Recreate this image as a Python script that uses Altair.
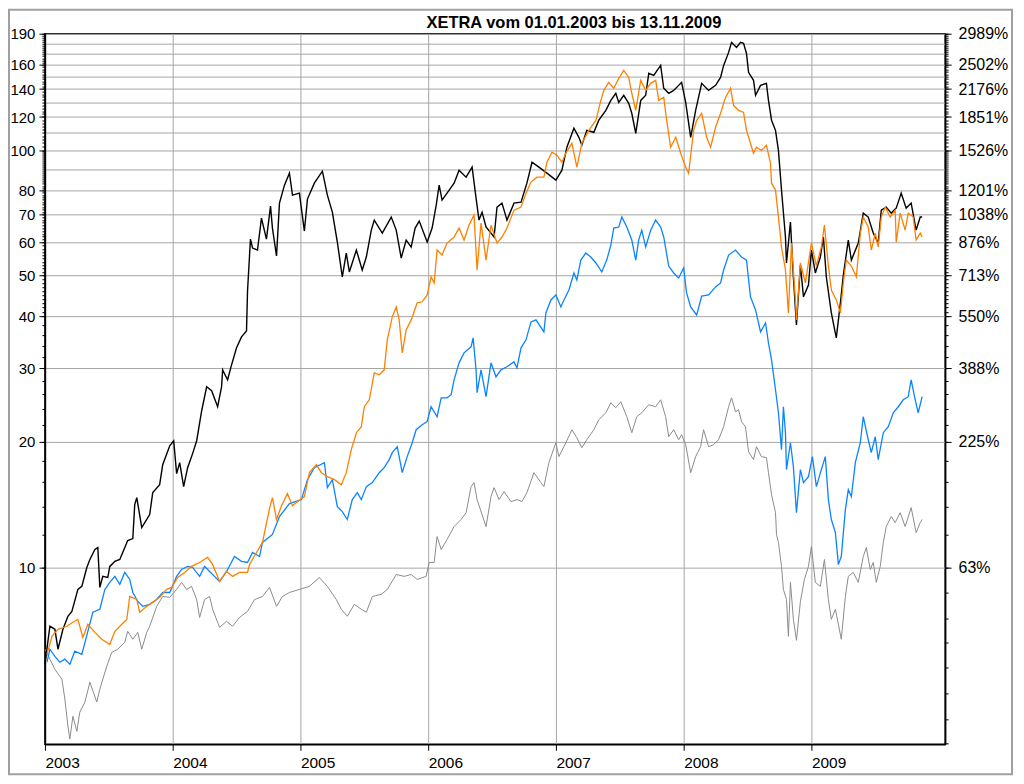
import altair as alt
import pandas as pd

FONT = "Liberation Sans, Arial, Helvetica, sans-serif"
TITLE = "XETRA vom 01.01.2003 bis 13.11.2009"

# (decimal year, price)
black = [
    (2003.000, 5.86), (2003.039, 7.23), (2003.078, 7.11), (2003.102, 6.37), (2003.141, 7.11),
    (2003.180, 7.64), (2003.211, 7.85), (2003.258, 8.86), (2003.289, 9.01), (2003.328, 10.0),
    (2003.352, 10.45), (2003.391, 11.04), (2003.414, 11.16), (2003.430, 8.96), (2003.453, 9.52),
    (2003.492, 9.46), (2003.508, 10.06), (2003.547, 10.34), (2003.586, 10.45), (2003.609, 10.86),
    (2003.648, 11.6), (2003.688, 11.73), (2003.703, 14.14), (2003.719, 14.7), (2003.758, 12.46),
    (2003.797, 13.03), (2003.820, 13.39), (2003.844, 15.11), (2003.898, 15.79), (2003.922, 17.63),
    (2003.977, 19.57), (2004.008, 20.12), (2004.031, 16.78), (2004.055, 17.83), (2004.086, 15.62),
    (2004.117, 17.34), (2004.156, 18.74), (2004.188, 20.12), (2004.227, 23.74), (2004.266, 27.1),
    (2004.305, 26.51), (2004.352, 24.27), (2004.383, 27.1), (2004.391, 29.75), (2004.430, 28.16),
    (2004.461, 30.58), (2004.500, 33.59), (2004.539, 35.68), (2004.578, 36.88), (2004.586, 45.97),
    (2004.609, 61.19), (2004.625, 58.25), (2004.664, 57.61), (2004.695, 68.71), (2004.734, 61.19),
    (2004.766, 73.41), (2004.781, 65.03), (2004.813, 55.74), (2004.836, 74.63), (2004.875, 82.4),
    (2004.914, 88.03), (2004.938, 77.99), (2004.992, 78.85), (2005.031, 63.97), (2005.055, 76.3),
    (2005.109, 83.32), (2005.172, 89.0), (2005.211, 78.0), (2005.250, 71.0), (2005.289, 60.2),
    (2005.328, 49.65), (2005.359, 56.66), (2005.383, 51.05), (2005.438, 57.61), (2005.484, 51.6),
    (2005.516, 55.43), (2005.555, 64.3), (2005.578, 67.96), (2005.641, 63.26), (2005.711, 69.1),
    (2005.750, 64.3), (2005.789, 55.13), (2005.828, 60.87), (2005.867, 58.57), (2005.898, 65.03),
    (2005.930, 67.58), (2005.992, 60.2), (2006.031, 65.03), (2006.063, 73.8), (2006.086, 82.4),
    (2006.109, 75.9), (2006.148, 78.85), (2006.203, 83.32), (2006.242, 89.5), (2006.297, 86.1),
    (2006.344, 91.0), (2006.375, 76.71), (2006.398, 67.96), (2006.422, 71.0), (2006.453, 65.4),
    (2006.516, 61.9), (2006.539, 73.0), (2006.578, 74.63), (2006.617, 67.96), (2006.672, 74.63),
    (2006.727, 75.0), (2006.773, 83.32), (2006.813, 93.5), (2006.867, 91.0), (2006.930, 88.03),
    (2007.000, 84.7), (2007.047, 89.5), (2007.086, 101.6), (2007.141, 112.8), (2007.180, 107.3),
    (2007.203, 102.7), (2007.242, 111.5), (2007.297, 110.3), (2007.336, 117.9), (2007.391, 124.5),
    (2007.430, 131.5), (2007.469, 136.8), (2007.492, 130.1), (2007.531, 135.3), (2007.570, 129.4),
    (2007.594, 122.5), (2007.625, 109.7), (2007.664, 131.5), (2007.703, 135.3), (2007.727, 152.7),
    (2007.766, 151.0), (2007.820, 159.5), (2007.844, 140.6), (2007.883, 136.8), (2007.922, 139.0),
    (2007.984, 145.3), (2008.016, 130.1), (2008.055, 107.3), (2008.094, 124.5), (2008.141, 144.5),
    (2008.195, 139.0), (2008.250, 142.9), (2008.289, 149.3), (2008.313, 159.5), (2008.352, 171.4),
    (2008.375, 181.1), (2008.414, 176.2), (2008.445, 181.1), (2008.469, 180.1), (2008.492, 170.4),
    (2008.508, 153.5), (2008.547, 146.9), (2008.563, 135.3), (2008.602, 142.9), (2008.648, 144.5),
    (2008.664, 131.6), (2008.688, 117.9), (2008.719, 111.5), (2008.742, 99.8), (2008.766, 80.2),
    (2008.797, 61.9), (2008.805, 53.63), (2008.836, 67.2), (2008.859, 49.65), (2008.883, 38.1),
    (2008.914, 53.0), (2008.938, 44.5), (2008.977, 47.5), (2009.000, 57.61), (2009.031, 50.76),
    (2009.070, 55.43), (2009.094, 61.9), (2009.117, 49.65), (2009.156, 40.72), (2009.195, 35.49),
    (2009.227, 43.03), (2009.250, 50.2), (2009.289, 60.87), (2009.313, 54.5), (2009.367, 59.87),
    (2009.406, 70.63), (2009.445, 69.1), (2009.484, 63.26), (2009.523, 59.87), (2009.547, 71.8),
    (2009.586, 73.0), (2009.625, 70.63), (2009.664, 72.6), (2009.703, 78.85), (2009.742, 72.6),
    (2009.781, 74.63), (2009.820, 64.3), (2009.852, 69.1), (2009.867, 69.1),
]

orange = [
    (2003.016, 6.19), (2003.055, 6.84), (2003.102, 7.11), (2003.172, 7.23), (2003.219, 7.39),
    (2003.258, 7.51), (2003.297, 6.8), (2003.336, 7.31), (2003.391, 6.99), (2003.445, 6.73),
    (2003.508, 6.54), (2003.547, 7.03), (2003.602, 7.31), (2003.641, 7.51), (2003.664, 8.52),
    (2003.719, 8.38), (2003.742, 7.81), (2003.797, 8.07), (2003.844, 8.25), (2003.898, 8.48),
    (2003.953, 8.86), (2003.992, 8.96), (2004.039, 9.46), (2004.094, 9.73), (2004.148, 10.06),
    (2004.211, 10.28), (2004.273, 10.57), (2004.313, 10.17), (2004.367, 9.26), (2004.422, 9.78),
    (2004.469, 9.52), (2004.523, 9.73), (2004.586, 9.73), (2004.602, 10.17), (2004.656, 10.86),
    (2004.703, 11.48), (2004.758, 13.83), (2004.781, 14.7), (2004.813, 13.03), (2004.852, 14.06),
    (2004.898, 15.03), (2004.938, 14.06), (2004.977, 14.38), (2005.031, 14.78), (2005.070, 16.87),
    (2005.125, 17.63), (2005.164, 16.87), (2005.211, 16.5), (2005.266, 16.23), (2005.320, 15.79),
    (2005.359, 16.87), (2005.398, 19.15), (2005.438, 21.03), (2005.477, 21.74), (2005.500, 24.27),
    (2005.539, 25.22), (2005.578, 29.27), (2005.617, 28.95), (2005.656, 29.75), (2005.680, 35.1),
    (2005.719, 39.84), (2005.750, 42.1), (2005.773, 39.19), (2005.797, 32.67), (2005.828, 37.07),
    (2005.867, 39.19), (2005.914, 43.03), (2005.953, 43.3), (2005.992, 44.96), (2006.023, 49.65),
    (2006.047, 48.04), (2006.070, 57.61), (2006.109, 56.04), (2006.148, 59.87), (2006.203, 61.9),
    (2006.242, 65.03), (2006.281, 60.87), (2006.320, 66.1), (2006.359, 69.9), (2006.383, 51.6),
    (2006.414, 66.84), (2006.453, 54.5), (2006.492, 66.1), (2006.539, 59.87), (2006.578, 61.9),
    (2006.617, 65.03), (2006.672, 71.8), (2006.727, 73.0), (2006.766, 78.85), (2006.805, 83.8),
    (2006.852, 86.1), (2006.906, 86.1), (2006.930, 93.5), (2006.969, 98.8), (2007.008, 97.2),
    (2007.047, 93.5), (2007.078, 98.3), (2007.125, 103.8), (2007.164, 91.0), (2007.203, 103.8),
    (2007.258, 111.5), (2007.313, 117.9), (2007.352, 131.5), (2007.375, 139.0), (2007.414, 145.3),
    (2007.453, 140.6), (2007.492, 148.5), (2007.531, 155.2), (2007.570, 149.3), (2007.594, 136.8),
    (2007.625, 124.5), (2007.664, 146.9), (2007.703, 139.0), (2007.742, 144.5), (2007.781, 146.9),
    (2007.805, 131.5), (2007.844, 133.7), (2007.867, 117.9), (2007.898, 101.6), (2007.938, 107.3),
    (2007.977, 98.3), (2008.016, 91.0), (2008.039, 88.03), (2008.078, 111.5), (2008.102, 117.9),
    (2008.141, 122.5), (2008.180, 107.3), (2008.211, 101.6), (2008.250, 113.4), (2008.289, 122.5),
    (2008.328, 133.7), (2008.367, 140.6), (2008.391, 128.0), (2008.430, 124.5), (2008.469, 123.1),
    (2008.492, 111.5), (2008.523, 103.8), (2008.547, 98.3), (2008.570, 101.6), (2008.609, 99.8),
    (2008.648, 102.7), (2008.680, 93.0), (2008.688, 83.3), (2008.719, 80.2), (2008.742, 69.1),
    (2008.766, 58.57), (2008.797, 51.6), (2008.820, 40.72), (2008.844, 59.87), (2008.875, 43.75),
    (2008.883, 39.19), (2008.914, 53.63), (2008.953, 48.04), (2009.000, 59.87), (2009.039, 52.75),
    (2009.078, 58.57), (2009.102, 66.1), (2009.133, 52.75), (2009.156, 46.2), (2009.195, 43.75),
    (2009.227, 40.72), (2009.250, 48.04), (2009.273, 54.5), (2009.313, 52.75), (2009.352, 49.65),
    (2009.383, 63.26), (2009.406, 69.1), (2009.445, 65.4), (2009.469, 57.61), (2009.500, 63.26),
    (2009.523, 58.57), (2009.547, 69.1), (2009.578, 73.0), (2009.617, 69.1), (2009.656, 71.8),
    (2009.664, 60.2), (2009.695, 70.63), (2009.734, 64.3), (2009.758, 70.63), (2009.797, 69.1),
    (2009.820, 60.87), (2009.852, 63.26), (2009.867, 61.9),
]

blue = [
    (2003.016, 5.93), (2003.039, 6.37), (2003.078, 6.12), (2003.117, 5.93), (2003.156, 6.03),
    (2003.195, 5.86), (2003.234, 6.3), (2003.289, 6.19), (2003.336, 7.03), (2003.375, 7.81),
    (2003.430, 7.94), (2003.469, 8.86), (2003.508, 9.21), (2003.547, 9.52), (2003.586, 9.11),
    (2003.625, 9.73), (2003.664, 9.36), (2003.688, 8.71), (2003.727, 8.29), (2003.766, 8.07),
    (2003.820, 8.16), (2003.875, 8.38), (2003.922, 8.71), (2003.977, 8.71), (2004.031, 9.52),
    (2004.070, 9.89), (2004.117, 10.06), (2004.156, 10.0), (2004.211, 9.52), (2004.250, 10.06),
    (2004.289, 9.78), (2004.328, 9.52), (2004.367, 9.26), (2004.422, 9.78), (2004.484, 10.62),
    (2004.539, 10.34), (2004.586, 10.28), (2004.625, 10.86), (2004.680, 10.62), (2004.703, 11.48),
    (2004.781, 12.0), (2004.836, 13.24), (2004.914, 14.22), (2005.008, 14.54), (2005.055, 16.23),
    (2005.109, 17.34), (2005.188, 17.83), (2005.211, 15.53), (2005.250, 16.23), (2005.289, 13.99),
    (2005.328, 13.61), (2005.367, 13.03), (2005.406, 14.54), (2005.445, 15.11), (2005.477, 14.54),
    (2005.516, 15.62), (2005.563, 15.97), (2005.617, 16.87), (2005.656, 17.34), (2005.695, 18.13),
    (2005.719, 18.84), (2005.758, 19.47), (2005.797, 16.87), (2005.836, 18.43), (2005.875, 19.9),
    (2005.906, 21.38), (2005.953, 21.98), (2005.992, 22.35), (2006.023, 24.27), (2006.070, 22.97),
    (2006.102, 25.5), (2006.148, 25.5), (2006.180, 25.93), (2006.203, 28.16), (2006.242, 30.92),
    (2006.281, 32.67), (2006.336, 33.78), (2006.352, 35.49), (2006.375, 29.75), (2006.383, 26.22),
    (2006.414, 29.75), (2006.453, 25.65), (2006.492, 30.92), (2006.531, 28.63), (2006.570, 29.75),
    (2006.617, 30.25), (2006.672, 31.09), (2006.695, 30.08), (2006.727, 33.59), (2006.766, 35.1),
    (2006.805, 38.75), (2006.844, 39.19), (2006.906, 36.68), (2006.922, 40.72), (2006.961, 43.75),
    (2007.000, 44.96), (2007.039, 42.1), (2007.063, 43.75), (2007.102, 46.2), (2007.141, 50.76),
    (2007.164, 48.8), (2007.195, 54.5), (2007.234, 56.66), (2007.273, 55.43), (2007.313, 53.63),
    (2007.359, 51.05), (2007.398, 54.5), (2007.430, 59.2), (2007.453, 65.03), (2007.492, 65.4),
    (2007.516, 69.1), (2007.555, 65.4), (2007.594, 60.87), (2007.625, 54.5), (2007.648, 60.87),
    (2007.672, 64.3), (2007.703, 58.57), (2007.742, 64.3), (2007.781, 67.96), (2007.820, 65.4),
    (2007.844, 61.9), (2007.883, 52.75), (2007.922, 50.76), (2007.961, 49.38), (2008.000, 52.17),
    (2008.023, 45.46), (2008.055, 42.1), (2008.102, 40.27), (2008.141, 44.7), (2008.195, 44.96),
    (2008.250, 47.0), (2008.289, 48.04), (2008.313, 51.6), (2008.352, 56.04), (2008.406, 57.61),
    (2008.453, 55.43), (2008.492, 54.5), (2008.523, 44.5), (2008.563, 41.4), (2008.602, 36.68),
    (2008.641, 38.54), (2008.664, 34.52), (2008.688, 31.44), (2008.719, 26.66), (2008.742, 23.48),
    (2008.766, 19.15), (2008.781, 24.27), (2008.797, 21.03), (2008.805, 17.16), (2008.836, 19.9),
    (2008.859, 17.44), (2008.883, 13.53), (2008.914, 17.16), (2008.938, 15.97), (2008.977, 16.5),
    (2009.008, 18.43), (2009.039, 15.62), (2009.078, 17.16), (2009.109, 18.43), (2009.133, 14.54),
    (2009.156, 13.03), (2009.188, 12.12), (2009.211, 10.17), (2009.234, 10.62), (2009.266, 13.76),
    (2009.289, 15.36), (2009.313, 14.78), (2009.344, 17.83), (2009.383, 19.9), (2009.406, 22.97),
    (2009.445, 20.23), (2009.469, 18.84), (2009.500, 20.57), (2009.523, 18.13), (2009.563, 21.03),
    (2009.602, 21.74), (2009.641, 23.48), (2009.680, 24.27), (2009.719, 25.22), (2009.758, 25.65),
    (2009.781, 28.16), (2009.813, 25.22), (2009.836, 23.48), (2009.867, 25.65),
]

gray = [
    (2003.000, 6.37), (2003.039, 6.03), (2003.078, 5.7), (2003.133, 5.4), (2003.156, 4.84),
    (2003.180, 4.17), (2003.195, 3.88), (2003.219, 4.4), (2003.250, 4.05), (2003.273, 4.5),
    (2003.313, 4.76), (2003.352, 5.31), (2003.406, 4.76), (2003.430, 5.11), (2003.484, 5.8),
    (2003.523, 6.26), (2003.570, 6.37), (2003.625, 6.62), (2003.648, 7.03), (2003.688, 6.73),
    (2003.727, 6.99), (2003.758, 6.37), (2003.797, 6.99), (2003.820, 7.23), (2003.875, 8.07),
    (2003.922, 8.52), (2003.977, 8.48), (2004.031, 8.86), (2004.070, 9.21), (2004.109, 8.86),
    (2004.148, 9.01), (2004.188, 8.38), (2004.211, 7.59), (2004.250, 8.38), (2004.289, 8.52),
    (2004.313, 7.94), (2004.367, 7.19), (2004.422, 7.43), (2004.469, 7.23), (2004.523, 7.59),
    (2004.586, 7.85), (2004.641, 8.38), (2004.703, 8.52), (2004.758, 8.96), (2004.813, 8.07),
    (2004.859, 8.52), (2004.914, 8.71), (2004.992, 8.86), (2005.070, 9.01), (2005.148, 9.46),
    (2005.211, 9.01), (2005.281, 8.38), (2005.320, 7.94), (2005.367, 7.64), (2005.422, 8.16),
    (2005.477, 7.94), (2005.516, 7.81), (2005.563, 8.52), (2005.633, 8.62), (2005.680, 8.86),
    (2005.750, 9.62), (2005.813, 9.52), (2005.867, 9.62), (2005.914, 9.36), (2005.984, 9.52),
    (2006.008, 10.28), (2006.047, 10.28), (2006.070, 11.86), (2006.102, 11.04), (2006.148, 11.67),
    (2006.203, 12.53), (2006.258, 13.03), (2006.297, 13.53), (2006.336, 15.62), (2006.359, 15.97),
    (2006.383, 14.54), (2006.453, 12.53), (2006.492, 14.78), (2006.516, 15.53), (2006.555, 14.54),
    (2006.594, 15.2), (2006.648, 14.38), (2006.695, 14.54), (2006.734, 14.38), (2006.773, 15.11),
    (2006.828, 16.87), (2006.883, 15.97), (2006.906, 15.62), (2006.945, 17.83), (2007.000, 19.9),
    (2007.023, 18.43), (2007.078, 19.9), (2007.125, 21.38), (2007.164, 20.46), (2007.203, 19.36),
    (2007.242, 20.23), (2007.297, 21.38), (2007.336, 22.59), (2007.391, 23.48), (2007.430, 24.81),
    (2007.469, 24.14), (2007.508, 24.95), (2007.555, 22.97), (2007.594, 21.03), (2007.633, 22.97),
    (2007.672, 23.48), (2007.727, 24.54), (2007.781, 24.27), (2007.820, 25.22), (2007.859, 22.97),
    (2007.883, 20.57), (2007.922, 21.38), (2007.961, 20.23), (2007.984, 20.8), (2008.016, 19.68),
    (2008.055, 16.87), (2008.094, 18.43), (2008.133, 19.47), (2008.156, 21.38), (2008.195, 19.47),
    (2008.234, 19.68), (2008.273, 20.23), (2008.313, 21.74), (2008.352, 24.27), (2008.375, 25.5),
    (2008.406, 23.6), (2008.430, 23.87), (2008.453, 22.35), (2008.484, 21.74), (2008.508, 18.94),
    (2008.547, 18.13), (2008.570, 19.47), (2008.609, 18.43), (2008.648, 18.33), (2008.664, 16.87),
    (2008.688, 14.94), (2008.719, 13.53), (2008.727, 11.99), (2008.742, 11.48), (2008.766, 10.06),
    (2008.781, 8.86), (2008.805, 8.38), (2008.820, 6.84), (2008.836, 9.21), (2008.859, 7.51),
    (2008.883, 6.69), (2008.914, 8.29), (2008.945, 9.36), (2008.977, 10.06), (2009.000, 11.22),
    (2009.031, 9.21), (2009.070, 9.01), (2009.102, 10.45), (2009.133, 8.38), (2009.156, 7.51),
    (2009.188, 7.94), (2009.234, 6.73), (2009.266, 8.52), (2009.289, 9.52), (2009.328, 9.73),
    (2009.367, 9.21), (2009.406, 10.62), (2009.430, 11.16), (2009.461, 9.89), (2009.484, 10.28),
    (2009.508, 9.21), (2009.539, 10.06), (2009.563, 11.48), (2009.586, 12.53), (2009.625, 13.24),
    (2009.656, 12.81), (2009.695, 13.53), (2009.734, 12.53), (2009.781, 13.91), (2009.820, 12.12),
    (2009.852, 12.81), (2009.867, 13.03),
]

year_ticks = [2003, 2004, 2005, 2006, 2007, 2008, 2009]
left_labels = [10, 20, 30, 40, 50, 60, 70, 80, 100, 120, 140, 160, 190]
right_labels = ["63%", "225%", "388%", "550%", "713%", "876%", "1038%",
                "1201%", "1526%", "1851%", "2176%", "2502%", "2989%"]
minor_ticks = list(range(10, 40, 2)) + list(range(40, 100)) + list(range(100, 191, 2))
low_ticks = [3.79, 4.33, 5.0, 5.77, 6.62, 7.55, 8.71]


def frame(pairs, name):
    return pd.DataFrame(pairs, columns=["year", "value"]).assign(series=name)


x_scale = alt.Scale(domain=[2003, 2010.047], nice=False, zero=False)
y_scale = alt.Scale(type="log", domain=[3.77, 190], nice=False)

x_axis = alt.Axis(values=year_ticks, format="d", title=None, grid=True, tickSize=6,
                  labelAlign="left", labelBaseline="top", labelPadding=5, labelFontSize=15.5,
                  labelFlush=False, labelOverlap=False)
left_major = alt.Axis(orient="left", values=left_labels, title=None, grid=False,
                      tickSize=6, labelPadding=4, labelFontSize=15)
left_minor = alt.Axis(orient="left", values=minor_ticks, title=None, labels=False,
                      tickSize=3, domain=False, grid=True,
                      gridOpacity={"condition": {"test": "datum.value % 10 == 0", "value": 1},
                                   "value": 0})
right_major = alt.Axis(orient="right", values=left_labels, title=None, grid=False,
                       tickSize=6, labelPadding=7, labelAlign="left", labelFontSize=16,
                       labelExpr=f"{right_labels}[indexof({left_labels}, datum.value)]")
right_minor = alt.Axis(orient="right", values=low_ticks + minor_ticks, title=None,
                       labels=False, tickSize=3, domain=False, grid=False)

gray_df = frame(gray, "gray")


def line(df, color, width, y_axis=None, opacity=1):
    return alt.Chart(df).mark_line(color=color, strokeWidth=width, strokeOpacity=opacity).encode(
        x=alt.X("year:Q", scale=x_scale, axis=x_axis),
        y=alt.Y("value:Q", scale=y_scale, axis=y_axis),
    )


base = line(gray_df, "#8c8c8c", 1, y_axis=left_major)
minor_l = line(gray_df, "#8c8c8c", 1, y_axis=left_minor, opacity=0)
major_r = line(gray_df, "#8c8c8c", 1, y_axis=right_major, opacity=0)
minor_r = line(gray_df, "#8c8c8c", 1, y_axis=right_minor, opacity=0)
blue_l = line(frame(blue, "blue"), "#0a84ff", 1.3)
black_l = line(frame(black, "black"), "#000000", 1.4)
orange_l = line(frame(orange, "orange"), "#ff8000", 1.3)

border = alt.Chart(pd.DataFrame({"a": [0]})).mark_rect(
    filled=False, stroke="#a0a0a0", strokeWidth=2
).encode(x=alt.value(-36), x2=alt.value(969), y=alt.value(-24), y2=alt.value(742))

chart = alt.layer(
    base, minor_l, major_r, minor_r, blue_l, black_l, orange_l, border
).resolve_axis(y="independent").properties(
    width=902,
    height=712,
    background="white",
    autosize=alt.AutoSizeParams(type="none"),
    padding={"left": 37, "top": 25, "right": 71, "bottom": 31},
    title=alt.TitleParams(TITLE, fontSize=16.5, fontWeight="bold", font=FONT,
                          anchor="middle", dx=79, offset=-36, baseline="alphabetic",
                          color="black"),
).configure_axis(
    labelFont=FONT, labelFontSize=15, labelColor="black",
    tickColor="black", tickWidth=1, domainColor="black", domainWidth=1.5,
    gridColor="#a6a6a6", gridWidth=1,
).configure_view(
    stroke="black", strokeWidth=1.5
)

chart.save("out.html", embed_options={"renderer": "svg", "actions": False})
